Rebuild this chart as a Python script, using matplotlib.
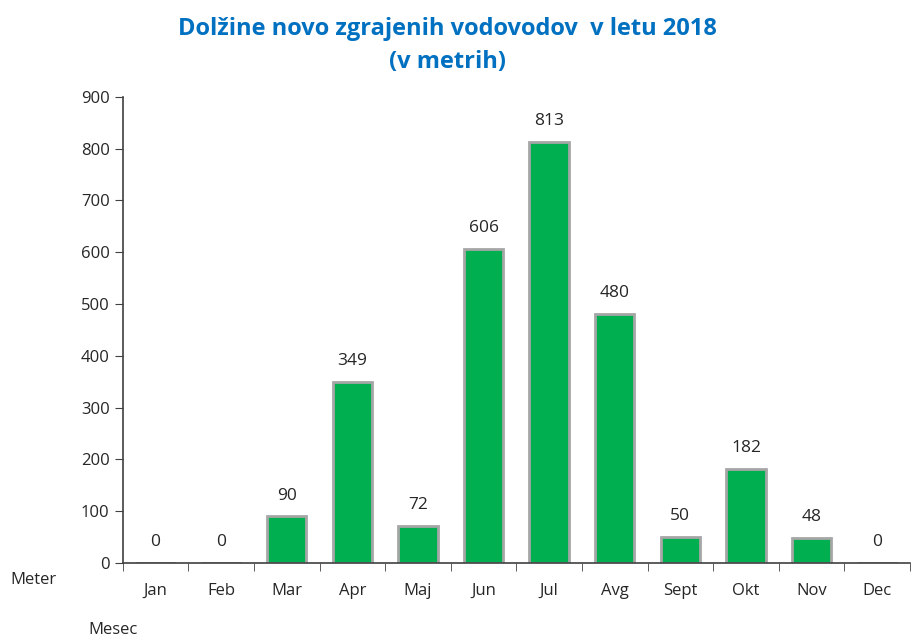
import matplotlib.pyplot as plt
import numpy as np

months = ['Jan', 'Feb', 'Mar', 'Apr', 'Maj', 'Jun', 'Jul', 'Avg', 'Sept', 'Okt', 'Nov', 'Dec']
lengths = [0, 0, 90, 349, 72, 606, 813, 480, 50, 182, 48, 0]
yticks = [0, 100, 200, 300, 400, 500, 600, 700, 800, 900]

plt.rcParams['font.family'] = ['Open Sans', 'DejaVu Sans']

fig = plt.figure(figsize=(9.16, 6.37), dpi=100)
ax = fig.add_axes([0.134, 0.116, 0.8594, 0.732])

x = np.arange(len(months))
bars = ax.bar(x, lengths, width=0.6, color='#00B050', edgecolor='#A6A6A6', linewidth=2)

for xi, v in zip(x, lengths):
    ax.text(xi, v + 25, str(v), ha='center', va='bottom', fontsize=12.5, color='#262626')

ax.set_xlim(-0.5, len(months) - 0.5)
ax.set_ylim(0, 900)
ax.set_yticks(yticks)
ax.set_xticks(x)
ax.set_xticklabels(months)
ax.set_xticks(np.arange(-0.5, len(months)), minor=True)
ax.tick_params(axis='x', which='major', length=0, pad=14, labelsize=12, labelcolor='#262626')
ax.tick_params(axis='x', which='minor', length=6, direction='out', color='#404040')
ax.tick_params(axis='y', length=6, direction='out', labelsize=12, labelcolor='#262626', color='#404040')

for s in ['top', 'right']:
    ax.spines[s].set_visible(False)
for s in ['left', 'bottom']:
    ax.spines[s].set_color('#404040')
    ax.spines[s].set_linewidth(1.2)

fig.text(0.488, 0.955, 'Dolžine novo zgrajenih vodovodov  v letu 2018', ha='center', va='center',
         fontsize=17, fontweight='bold', color='#0070C0')
fig.text(0.488, 0.903, '(v metrih)', ha='center', va='center',
         fontsize=17, fontweight='bold', color='#0070C0')

fig.text(0.011, 0.089, 'Meter', ha='left', va='center', fontsize=12, color='#262626')
fig.text(0.096, 0.011, 'Mesec', ha='left', va='center', fontsize=12, color='#262626')

fig.savefig('out.png', dpi=100)
